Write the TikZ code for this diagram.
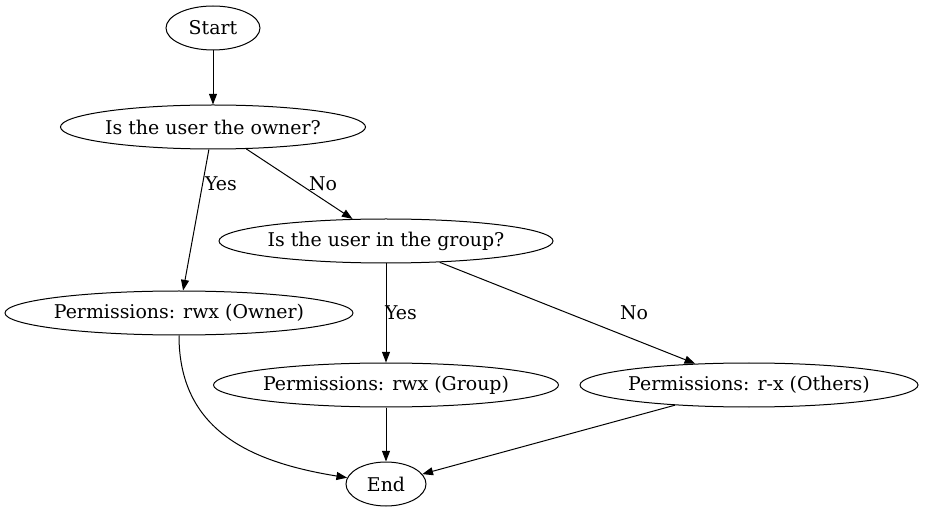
\documentclass[tikz,border=0pt]{standalone}
\usepackage{fontspec}
\setmainfont{DejaVu Serif}
\usetikzlibrary{shapes.geometric,arrows.meta}

\newcommand{\flowtext}[1]{\makebox[0pt]{#1}}

\tikzset{
  state/.style={draw, ellipse, inner sep=0pt, minimum height=33pt, line width=0.75pt},
  flow/.style={line width=0.75pt, -{Triangle[length=8pt,width=6pt]}},
  every node/.style={font=\fontsize{14.2}{17}\selectfont}
}

\begin{document}
\begin{tikzpicture}[x=0.75pt,y=-0.75pt]

	\useasboundingbox (0,0) rectangle (925,513);

	% nodes
	\node[state, minimum width=70.5pt] (start) at (213,28) {\flowtext{Start}};
	\node[state, minimum width=228.75pt] (owner) at (213,127) {\flowtext{Is the user the owner?}};
	\node[state, minimum width=250.5pt] (group) at (386,241) {\flowtext{Is the user in the group?}};
	\node[state, minimum width=261pt] (permowner) at (179,313) {\flowtext{Permissions: rwx (Owner)}};
	\node[state, minimum width=258.75pt] (permgroup) at (386,385) {\flowtext{Permissions: rwx (Group)}};
	\node[state, minimum width=253.5pt] (permothers) at (749,385) {\flowtext{Permissions: r-x (Others)}};
	\node[state, minimum width=60pt] (end) at (386,484) {\flowtext{End}};

	% edges
	\draw[flow] (start) -- (owner);
	\draw[flow] (owner) -- (permowner);
	\draw[flow] (owner) -- (group);
	\draw[flow] (group) -- (permgroup);
	\draw[flow] (group) -- (permothers);
	\draw[flow] (permowner.south) .. controls (179,430) and (250,462) .. (end);
	\draw[flow] (permgroup) -- (end);
	\draw[flow] (permothers) -- (end);

	% edge labels
	\node (yesowner) at (221,184) {Yes};
	\node (noowner) at (323,184) {No};
	\node (yesgroup) at (401,313) {Yes};
	\node (nogroup) at (634,313) {No};

\end{tikzpicture}
\end{document}
